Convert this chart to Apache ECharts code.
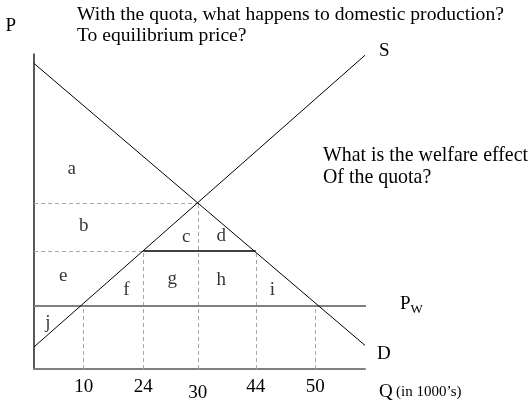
<!DOCTYPE html>
<html>
<head>
<meta charset="utf-8">
<title>Quota</title>
<script src="https://cdn.jsdelivr.net/npm/echarts@6/dist/echarts.min.js"></script>
<style>
  html, body { margin: 0; padding: 0; background: #fff; }
  #chart { width: 532px; height: 404px; }
</style>
</head>
<body>
<div id="chart"></div>
<script>
// schematic diagram units: x 0..100, y 0..100
var qLabels = ['10', '24', '30', '44', '50'];
var qPos = [15, 33, 49.5, 67, 85];
var priceWorld = 20;
var priceQuota = 37.5;
var priceEq = 52.7;
var demand = [[0, 97], [100, 7.5]];
var supply = [[0, 7], [100, 99.6]];
var worldLine = [[0, 20], [107.5, 20]];
var areaNames = ['a', 'b', 'c', 'd', 'e', 'f', 'g', 'h', 'i', 'j'];
var areaPos = [[11.4, 63.5], [15, 45.4], [46, 42], [56.6, 42.2], [8.8, 29.5],
               [27.9, 25], [41.8, 28.5], [56.6, 28.3], [72, 25], [4.2, 14.5]];

var font = 'Liberation Serif';

window.onload = function () {
    var chart = echarts.init(document.getElementById('chart'));

    // dashed guides built from the values above
    var guides = [
        [[0, priceEq], [qPos[2], priceEq]],
        [[0, priceQuota], [qPos[1], priceQuota]],
        [[qPos[0], 0], [qPos[0], priceWorld]],
        [[qPos[1], 0], [qPos[1], priceQuota]],
        [[qPos[2], 0], [qPos[2], priceEq]],
        [[qPos[3], 0], [qPos[3], priceQuota]],
        [[qPos[4], 0], [qPos[4], priceWorld]]
    ];

    var option = {
        animation: false,
        title: [
            {
                text: 'With the quota, what happens to domestic production?\nTo equilibrium price?',
                left: 77, top: 4, padding: 0,
                textStyle: { fontFamily: font, fontSize: 19.6, fontWeight: 'normal', color: '#000', lineHeight: 21 }
            },
            {
                text: 'What is the welfare effect\nOf the quota?',
                left: 323, top: 145, padding: 0,
                textStyle: { fontFamily: font, fontSize: 19.9, fontWeight: 'normal', color: '#000', lineHeight: 22 }
            }
        ],
        grid: { left: 34, top: 54, width: 331, height: 315 },
        xAxis: {
            type: 'value', min: 0, max: 100,
            splitLine: { show: false },
            axisTick: { show: false },
            axisLine: { lineStyle: { color: '#808080', width: 2 } },
            axisLabel: {
                customValues: qPos,
                margin: 9,
                color: '#000', fontFamily: font, fontSize: 19,
                formatter: function (v) {
                    var i = qPos.indexOf(v);
                    var t = i >= 0 ? qLabels[i] : '';
                    return v === qPos[2] ? '{low|' + t + '}' : t;
                },
                rich: { low: { fontFamily: font, fontSize: 19, color: '#000', padding: [6, 0, 0, 0] } }
            },
            name: '{q|Q} {s|(in 1000\u2019s)}',
            nameLocation: 'end',
            nameGap: 14,
            nameTextStyle: {
                verticalAlign: 'top', padding: [14, 0, 0, 0],
                rich: {
                    q: { fontFamily: font, fontSize: 19, color: '#000' },
                    s: { fontFamily: font, fontSize: 15, color: '#000' }
                }
            }
        },
        yAxis: {
            type: 'value', min: 0, max: 100,
            splitLine: { show: false },
            axisTick: { show: false },
            axisLabel: { show: false },
            axisLine: { lineStyle: { color: '#222', width: 1.5 } },
            name: 'P',
            nameLocation: 'end',
            nameGap: 18,
            nameTextStyle: { fontFamily: font, fontSize: 19, color: '#000', align: 'right', padding: [0, 18, 0, 0] }
        },
        series: [
            {
                type: 'lines', coordinateSystem: 'cartesian2d', silent: true,
                lineStyle: { color: '#a8a8a8', width: 1, type: [4, 3], opacity: 1 },
                data: guides.map(function (g) { return { coords: g }; })
            },
            {
                type: 'line', data: worldLine, clip: false, symbol: 'none', silent: true,
                lineStyle: { color: '#808080', width: 2 },
                endLabel: {
                    show: true, offset: [26, -2],
                    formatter: '{p|P}{w|W}',
                    rich: {
                        p: { fontFamily: font, fontSize: 19, color: '#000' },
                        w: { fontFamily: font, fontSize: 13, color: '#000', padding: [12, 0, 0, 0] }
                    }
                }
            },
            {
                type: 'line', data: [[qPos[1], priceQuota], [qPos[3], priceQuota]], symbol: 'none', silent: true,
                lineStyle: { color: '#000', width: 1.5 }
            },
            {
                type: 'line', data: demand, clip: false, symbol: 'none', silent: true,
                lineStyle: { color: '#000', width: 1 },
                endLabel: { show: true, formatter: 'D', offset: [4, 9], fontFamily: font, fontSize: 19, color: '#000' }
            },
            {
                type: 'line', data: supply, clip: false, symbol: 'none', silent: true,
                lineStyle: { color: '#000', width: 1 },
                endLabel: { show: true, formatter: 'S', offset: [6, -4], fontFamily: font, fontSize: 19, color: '#000' }
            },
            {
                type: 'scatter', symbolSize: 0, silent: true,
                data: areaPos.map(function (p, i) { return { value: p, name: areaNames[i] }; }),
                label: {
                    show: true, position: 'inside', formatter: '{b}',
                    fontFamily: font, fontSize: 19, color: '#000'
                }
            }
        ]
    };
    chart.setOption(option);
};
</script>
</body>
</html>
